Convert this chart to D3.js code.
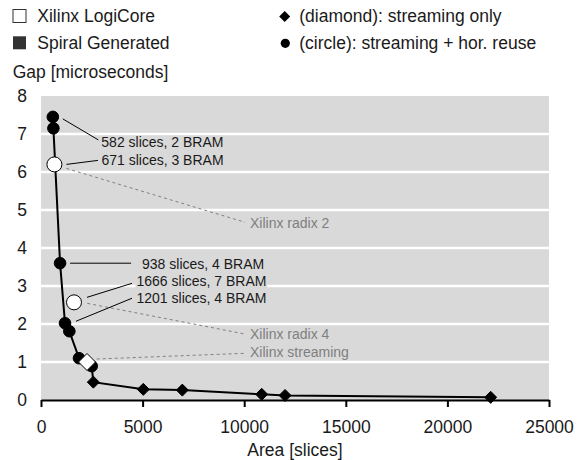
<!DOCTYPE html>
<html>
<head>
<meta charset="utf-8">
<script src="https://cdn.jsdelivr.net/npm/d3@7"></script>
<style>
  body { margin: 0; background: #fff; }
  text { font-family: "Liberation Sans", Arial, sans-serif; }
</style>
</head>
<body>
<svg id="chart"></svg>
<script>
const X_TICKS = [0, 5000, 10000, 15000, 20000, 25000];
const Y_TICKS = [0, 1, 2, 3, 4, 5, 6, 7, 8];

// Spiral generated designs (joined by the line)
const spiralArea = [582, 610, 938, 1181, 1394, 1870, 2495, 2575, 5035, 6955, 10860, 12010, 22130];
const spiralGap = [7.45, 7.15, 3.6, 2.02, 1.81, 1.1, 0.89, 0.47, 0.28, 0.26, 0.15, 0.12, 0.07];
const spiralShape = ["circle", "circle", "circle", "circle", "circle", "circle", "circle",
  "diamond", "diamond", "diamond", "diamond", "diamond", "diamond"];

// Xilinx LogiCore cores
const xilinxArea = [660, 1624, 2264];
const xilinxGap = [6.2, 2.57, 1.0];
const xilinxShape = ["circle", "circle", "diamond"];
const xilinxLabel = ["Xilinx radix 2", "Xilinx radix 4", "Xilinx streaming"];

const spiralNotes = ["582 slices, 2 BRAM", "671 slices, 3 BRAM", "938 slices, 4 BRAM",
  "1666 slices, 7 BRAM", "1201 slices, 4 BRAM"];

const WIDTH = 585;
const HEIGHT = 460;
const margin = { top: 96, right: 36, bottom: 60, left: 41 };
const CHART_START_X = margin.left;
const CHART_END_X = WIDTH - margin.right;
const CHART_START_Y = margin.top;
const CHART_END_Y = HEIGHT - margin.bottom;

const BIG_FONT = "17.5px";
const SMALL_FONT = "14px";

const svg = d3.select("#chart").attr("width", WIDTH).attr("height", HEIGHT);

const xScale = d3.scaleLinear().domain([0, 25000]).range([CHART_START_X, CHART_END_X]);
const yScale = d3.scaleLinear().domain([0, 8]).range([CHART_END_Y, CHART_START_Y]);

// plot background + horizontal grid
svg.append("rect")
  .attr("x", CHART_START_X)
  .attr("y", CHART_START_Y)
  .attr("width", CHART_END_X - CHART_START_X)
  .attr("height", CHART_END_Y - CHART_START_Y)
  .attr("fill", "#d9d9d9");

svg.selectAll(".grid")
  .data(Y_TICKS.filter((d) => d > 0 && d < 8))
  .join("line")
  .classed("grid", true)
  .attr("x1", CHART_START_X)
  .attr("x2", CHART_END_X)
  .attr("y1", (d) => yScale(d))
  .attr("y2", (d) => yScale(d))
  .attr("stroke", "#fff")
  .attr("stroke-width", 2.5);

// axes
const xAxis = d3.axisBottom(xScale)
  .tickValues(X_TICKS)
  .tickFormat(d3.format("d"))
  .tickSizeInner(7)
  .tickSizeOuter(0);
const gx = svg.append("g").attr("transform", `translate(0, ${CHART_END_Y})`).call(xAxis);
gx.select(".domain").attr("stroke", "#000").attr("stroke-width", 2);
gx.selectAll(".tick line").attr("stroke", "#000").attr("stroke-width", 2);
gx.selectAll(".tick text").style("font-size", BIG_FONT).attr("fill", "#1a1a1a")
  .attr("y", 33).attr("dy", 0);

const yAxis = d3.axisLeft(yScale).tickValues(Y_TICKS).tickSize(0).tickPadding(14);
const gy = svg.append("g").attr("transform", `translate(${CHART_START_X}, 0)`).call(yAxis);
gy.select(".domain").remove();
gy.selectAll(".tick text").style("font-size", BIG_FONT).attr("fill", "#1a1a1a");

svg.append("text").attr("x", 12.7).attr("y", 78).style("font-size", BIG_FONT)
  .attr("fill", "#1a1a1a").text("Gap [microseconds]");
svg.append("text").attr("x", (CHART_START_X + CHART_END_X) / 2).attr("y", 455.5)
  .attr("text-anchor", "middle").style("font-size", BIG_FONT)
  .attr("fill", "#1a1a1a").text("Area [slices]");

// legend
svg.append("rect").attr("x", 13).attr("y", 9.5).attr("width", 13).attr("height", 13)
  .attr("fill", "#fff").attr("stroke", "#333").attr("stroke-width", 1);
svg.append("text").attr("x", 37.3).attr("y", 22).style("font-size", BIG_FONT)
  .attr("fill", "#1a1a1a").text("Xilinx LogiCore");
svg.append("rect").attr("x", 13).attr("y", 36.3).attr("width", 13).attr("height", 13)
  .attr("fill", "#333");
svg.append("text").attr("x", 37.3).attr("y", 49).style("font-size", BIG_FONT)
  .attr("fill", "#1a1a1a").text("Spiral Generated");

const diamondPath = (cx, cy, h) => `M${cx},${cy - h}L${cx + h},${cy}L${cx},${cy + h}L${cx - h},${cy}Z`;

svg.append("path").attr("d", diamondPath(284.7, 16.5, 5.5)).attr("fill", "#000");
svg.append("text").attr("x", 299.3).attr("y", 21.8).style("font-size", BIG_FONT)
  .attr("fill", "#1a1a1a").text("(diamond): streaming only");
svg.append("circle").attr("cx", 285.3).attr("cy", 43.3).attr("r", 4.6).attr("fill", "#000");
svg.append("text").attr("x", 299.3).attr("y", 48.6).style("font-size", BIG_FONT)
  .attr("fill", "#1a1a1a").text("(circle): streaming + hor. reuse");

// leader lines for the Spiral annotations (offsets in px from the point)
const notes = [
  { text: spiralNotes[0], px: xScale(spiralArea[0]), py: yScale(spiralGap[0]), from: [10, 2], to: [45.5, 23], label: [48.5, 29.8] },
  { text: spiralNotes[1], px: xScale(xilinxArea[0]), py: yScale(xilinxGap[0]), from: [12, 0], to: [43.5, -4], label: [47, 0.5] },
  { text: spiralNotes[2], px: xScale(spiralArea[2]), py: yScale(spiralGap[2]), from: [10, 0], to: [71, 0], label: [82, 5.5] },
  { text: spiralNotes[3], px: xScale(xilinxArea[1]), py: yScale(xilinxGap[1]), from: [13, -5], to: [58, -19], label: [62.5, -16] },
  { text: spiralNotes[4], px: xScale(spiralArea[3]), py: yScale(spiralGap[3]), from: [11, -2], to: [67, -25], label: [71.5, -20] },
];

const xilinxNotes = xilinxLabel.map((t, i) => ({
  text: t,
  px: xScale(xilinxArea[i]),
  py: yScale(xilinxGap[i]),
  from: [[12, 4], [13.3, 1], [9.7, -3]][i],
  to: [[190.6, 57.9], [171, 31.7], [158, -8.7]][i],
  label: [[195.6, 63.6], [176, 36.7], [163, -5]][i],
}));

svg.selectAll(".xnote-line")
  .data(xilinxNotes)
  .join("line")
  .classed("xnote-line", true)
  .attr("x1", (d) => d.px + d.from[0])
  .attr("y1", (d) => d.py + d.from[1])
  .attr("x2", (d) => d.px + d.to[0])
  .attr("y2", (d) => d.py + d.to[1])
  .attr("stroke", "#808080")
  .attr("stroke-width", 1)
  .attr("stroke-dasharray", "3,3");

svg.selectAll(".xnote-text")
  .data(xilinxNotes)
  .join("text")
  .classed("xnote-text", true)
  .attr("x", (d) => d.px + d.label[0])
  .attr("y", (d) => d.py + d.label[1])
  .style("font-size", SMALL_FONT)
  .attr("fill", "#7f7f7f")
  .text((d) => d.text);

svg.selectAll(".note-line")
  .data(notes)
  .join("line")
  .classed("note-line", true)
  .attr("x1", (d) => d.px + d.from[0])
  .attr("y1", (d) => d.py + d.from[1])
  .attr("x2", (d) => d.px + d.to[0])
  .attr("y2", (d) => d.py + d.to[1])
  .attr("stroke", "#000")
  .attr("stroke-width", 1);

const noteGroups = svg.selectAll(".note")
  .data(notes)
  .join("g")
  .classed("note", true);
const noteBg = noteGroups.append("rect").attr("fill", "#d9d9d9");
noteGroups.append("text")
  .attr("x", (d) => d.px + d.label[0])
  .attr("y", (d) => d.py + d.label[1])
  .style("font-size", SMALL_FONT)
  .attr("fill", "#1a1a1a")
  .text((d) => d.text)
  .each(function (d) {
    d.bb = this.getBBox();
  });
noteBg
  .attr("x", (d) => d.bb.x - 1)
  .attr("y", (d) => d.py + d.label[1] - 11)
  .attr("width", (d) => d.bb.width + 2)
  .attr("height", 14);

// spiral line + markers
const spiral = spiralArea.map((a, i) => ({ area: a, gap: spiralGap[i], shape: spiralShape[i] }));
const xilinx = xilinxArea.map((a, i) => ({ area: a, gap: xilinxGap[i], shape: xilinxShape[i] }));

const line = d3.line().x((d) => xScale(d.area)).y((d) => yScale(d.gap));
svg.append("path")
  .datum(spiral)
  .attr("d", line)
  .attr("fill", "none")
  .attr("stroke", "#000")
  .attr("stroke-width", 2);

function drawMarkers(cls, data, fill, rCircle, hDiamond) {
  svg.selectAll("." + cls + "-c")
    .data(data.filter((d) => d.shape === "circle"))
    .join("circle")
    .classed(cls + "-c", true)
    .attr("cx", (d) => xScale(d.area))
    .attr("cy", (d) => yScale(d.gap))
    .attr("r", rCircle)
    .attr("fill", fill)
    .attr("stroke", "#000")
    .attr("stroke-width", 1);
  svg.selectAll("." + cls + "-d")
    .data(data.filter((d) => d.shape === "diamond"))
    .join("path")
    .classed(cls + "-d", true)
    .attr("d", (d) => diamondPath(xScale(d.area), yScale(d.gap), hDiamond))
    .attr("fill", fill)
    .attr("stroke", "#000")
    .attr("stroke-width", 1);
}

drawMarkers("spiral", spiral, "#000", 5.8, 6);
drawMarkers("xilinx", xilinx, "#fff", 7.5, 8.5);
</script>
</body>
</html>
